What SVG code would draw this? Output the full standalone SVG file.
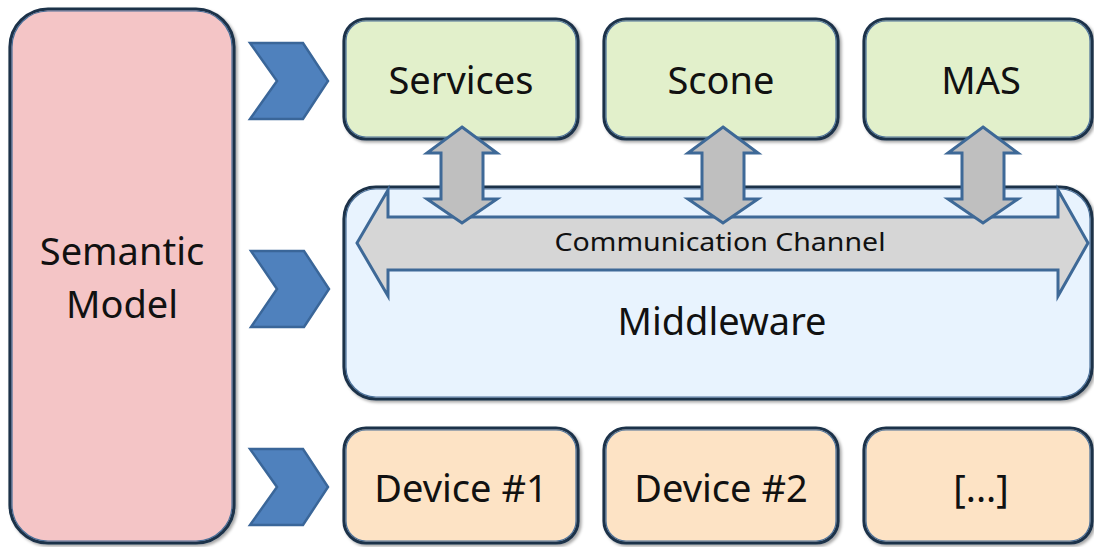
<svg xmlns="http://www.w3.org/2000/svg" width="1094" height="547" viewBox="0 0 1094 547">
  <defs>
    <filter id="shadow" x="-10%" y="-10%" width="120%" height="120%">
      <feDropShadow dx="2" dy="2" stdDeviation="1.5" flood-color="#000" flood-opacity="0.35"/>
    </filter>
  </defs>
  <style>
    .box { stroke: #1b3148; stroke-width: 3.2; filter: url(#shadow); }
    .inner { fill: none; stroke: #4a6f98; stroke-width: 1.2; }
    .sem { fill: #f4c5c6; }
    .app { fill: #e2f0cb; }
    .mid { fill: #e8f3fe; }
    .dev { fill: #fde3c5; }
    .chev { fill: #4f81bd; stroke: #3a6699; stroke-width: 2.5; stroke-linejoin: miter; }
    .vlink { fill: #bfbfbf; stroke: #3e6997; stroke-width: 3; stroke-linejoin: miter; }
    .chan { fill: #d6d6d6; stroke: #3e6997; stroke-width: 3; stroke-linejoin: miter; }
    .lbl { font-family: "Noto Sans", "Open Sans", sans-serif; font-size: 38px; fill: #111; text-anchor: middle; }
    .small { font-size: 25px; }
  </style>

  <!-- Semantic model column -->
  <g id="semantic-model">
    <rect class="box sem" x="10" y="9" width="224" height="534" rx="38"/>
    <rect class="inner" x="12" y="11" width="220" height="530" rx="36"/>
    <text class="lbl" x="122" y="265">Semantic</text>
    <text class="lbl" x="122" y="318">Model</text>
  </g>

  <!-- Chevrons feeding each layer -->
  <g id="chevrons">
    <polygon class="chev" points="250,43 303,43 328,81 303,119 250,119 277,81"/>
    <polygon class="chev" points="251,251 304,251 329,289 304,327 251,327 277,289"/>
    <polygon class="chev" points="250,449 303,449 328,487 303,525 250,525 277,487"/>
  </g>

  <!-- Application layer -->
  <g id="services">
    <rect class="box app" x="344" y="19" width="234" height="120" rx="22"/>
    <rect class="inner" x="346" y="21" width="230" height="116" rx="20"/>
    <text class="lbl" x="461" y="94">Services</text>
  </g>
  <g id="scone">
    <rect class="box app" x="604" y="19" width="234" height="120" rx="22"/>
    <rect class="inner" x="606" y="21" width="230" height="116" rx="20"/>
    <text class="lbl" x="721" y="94">Scone</text>
  </g>
  <g id="mas">
    <rect class="box app" x="864" y="19" width="228" height="120" rx="22"/>
    <rect class="inner" x="866" y="21" width="224" height="116" rx="20"/>
    <text class="lbl" x="981" y="94">MAS</text>
  </g>

  <!-- Middleware layer -->
  <g id="middleware">
    <rect class="box mid" x="344" y="187" width="748" height="212" rx="32"/>
    <rect class="inner" x="346" y="189" width="744" height="208" rx="30"/>
    <text class="lbl" x="722" y="335">Middleware</text>
  </g>

  <!-- Connectors: communication channel and links to applications -->
  <g id="connectors">
    <g id="communication-channel">
      <polygon class="chan" points="357,243 388,190 388,217 1058,217 1058,190 1088,243 1058,296 1058,270 388,270 388,296"/>
      <text class="lbl small" x="720" y="251" textLength="331" lengthAdjust="spacingAndGlyphs">Communication Channel</text>
    </g>
    <polygon class="vlink" points="462,127 497,153 483,153 483,199 497,199 462,223 427,199 441,199 441,153 427,153"/>
    <polygon class="vlink" points="723,127 758,153 744,153 744,199 758,199 723,223 688,199 702,199 702,153 688,153"/>
    <polygon class="vlink" points="983,127 1018,153 1004,153 1004,199 1018,199 983,223 948,199 962,199 962,153 948,153"/>
  </g>

  <!-- Device layer -->
  <g id="device-1">
    <rect class="box dev" x="344" y="428" width="234" height="115" rx="22"/>
    <rect class="inner" x="346" y="430" width="230" height="111" rx="20"/>
    <text class="lbl" x="461" y="502">Device #1</text>
  </g>
  <g id="device-2">
    <rect class="box dev" x="604" y="428" width="234" height="115" rx="22"/>
    <rect class="inner" x="606" y="430" width="230" height="111" rx="20"/>
    <text class="lbl" x="721" y="502">Device #2</text>
  </g>
  <g id="device-more">
    <rect class="box dev" x="864" y="428" width="228" height="115" rx="22"/>
    <rect class="inner" x="866" y="430" width="224" height="111" rx="20"/>
    <text class="lbl" x="981" y="502">[...]</text>
  </g>
</svg>
